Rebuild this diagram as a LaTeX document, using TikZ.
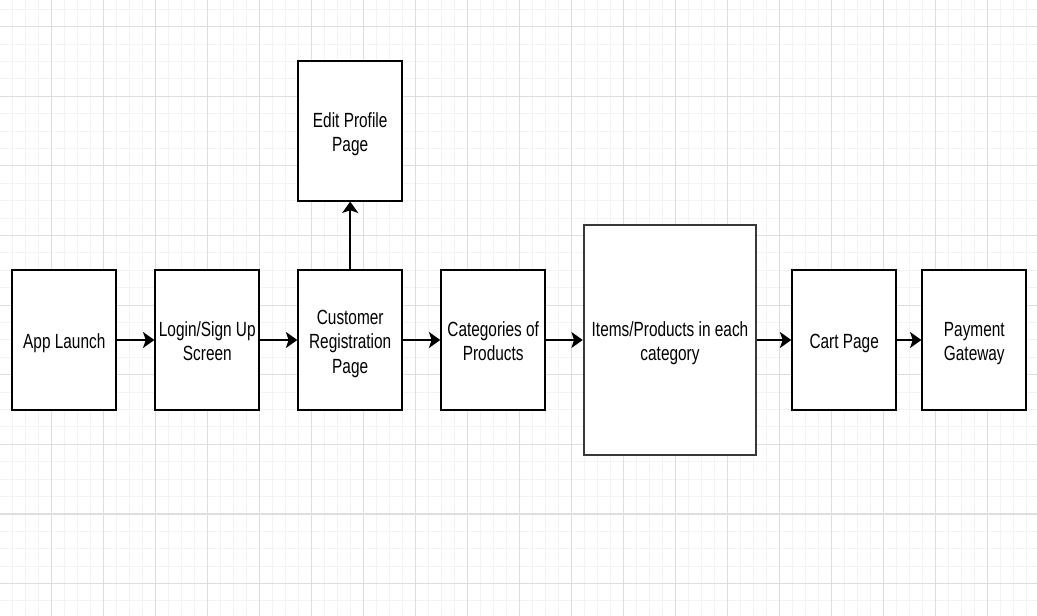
\documentclass[tikz,border=0pt]{standalone}
\usepackage{fontspec}
\setmainfont{Liberation Sans}
\newfontfamily\boxfont[FakeStretch=0.75]{Liberation Sans}
\usetikzlibrary{arrows.meta}
\definecolor{gridminor}{HTML}{F3F3F3}
\definecolor{gridmajor}{HTML}{DEDEDE}
\newcommand{\boxtext}[1]{\raisebox{-2.8pt}[\height][\depth]{\begin{tabular}{@{}c@{}}#1\end{tabular}}}
\tikzset{
  pagebox/.style={draw=black, line width=1.4pt, fill=white, inner sep=0pt,
    font=\boxfont\fontsize{15.4pt}{18.3pt}\selectfont, align=center},
  flow/.style={draw=black, line width=1.3pt, -{Stealth[length=8.5pt,width=12pt,inset=2pt]}},
}
\begin{document}
\begin{tikzpicture}[x=0.75pt,y=-0.75pt]
\useasboundingbox (0,0) rectangle (1037,616);
\fill[white] (0,0) rectangle (1037,616);
% grid
\foreach \i in {0,...,79} {
  \pgfmathsetmacro{\gx}{12.3+13*\i}
  \draw[gridminor, line width=0.7pt] (\gx,0) -- (\gx,616);
}
\foreach \i in {0,...,35} {
  \pgfmathsetmacro{\gy}{9.3+17.4*\i}
  \draw[gridminor, line width=0.7pt] (0,\gy) -- (1037,\gy);
}
\foreach \i in {0,...,19} {
  \pgfmathsetmacro{\gx}{51.3+52*\i}
  \draw[gridmajor, line width=0.9pt] (\gx,0) -- (\gx,616);
}
\foreach \i in {0,...,8} {
  \pgfmathsetmacro{\gy}{26.7+69.6*\i}
  \draw[gridmajor, line width=0.9pt] (0,\gy) -- (1037,\gy);
}
% boxes
\node[pagebox, minimum width=78pt, minimum height=104.5pt] (app) at (64.3,340) {\boxtext{App Launch}};
\node[pagebox, minimum width=78pt, minimum height=104.5pt] (login) at (207.3,340) {\boxtext{Login/Sign Up\\Screen}};
\node[pagebox, minimum width=78pt, minimum height=104.5pt] (reg) at (350.2,340) {\boxtext{Customer\\Registration\\Page}};
\node[pagebox, minimum width=78pt, minimum height=104.5pt] (edit) at (350.2,131) {\boxtext{Edit Profile\\Page}};
\node[pagebox, minimum width=78pt, minimum height=104.5pt] (cat) at (493.2,340) {\boxtext{Categories of\\Products}};
\node[pagebox, draw=black!78, minimum width=129.5pt, minimum height=173pt] (items) at (670,340) {\boxtext{Items/Products in each\\category}};
\node[pagebox, minimum width=78pt, minimum height=104.5pt] (cart) at (844.2,340) {\boxtext{Cart Page}};
\node[pagebox, minimum width=78pt, minimum height=104.5pt] (pay) at (974.3,340) {\boxtext{Payment\\Gateway}};
% connectors
\draw[flow] (app) -- (login);
\draw[flow] (login) -- (reg);
\draw[flow] (reg) -- (cat);
\draw[flow] (cat) -- (items);
\draw[flow] (items) -- (cart);
\draw[flow] (cart) -- (pay);
\draw[flow] (reg) -- (edit);
\end{tikzpicture}
\end{document}
